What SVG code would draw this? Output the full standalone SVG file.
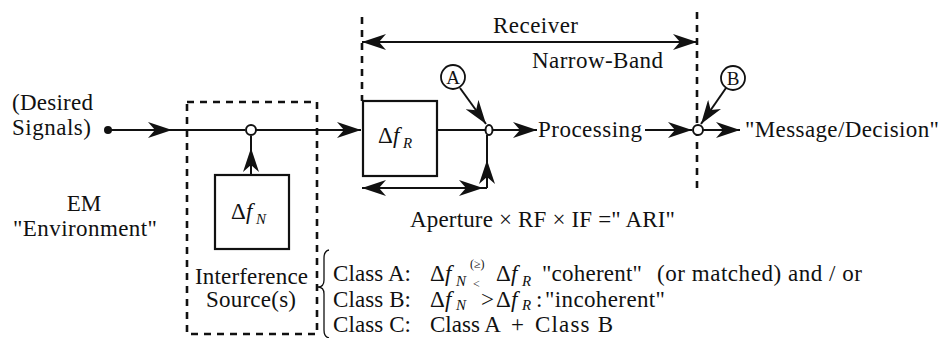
<svg xmlns="http://www.w3.org/2000/svg" width="945" height="338" viewBox="0 0 945 338">
  <defs>
    <marker id="arrow" viewBox="0 0 24 16" refX="24" refY="8" markerWidth="24" markerHeight="16" markerUnits="userSpaceOnUse" orient="auto-start-reverse">
      <path d="M0,0 L24,8 L0,16 L7,8 Z" fill="#111"/>
    </marker>
  </defs>
  <style>
    text { font-family: 'Liberation Serif', 'Times New Roman', 'DejaVu Serif', serif; font-size: 23px; fill: #111; }
    .it { font-style: italic; }
    .sub { font-style: italic; font-size: 15px; }
    .sm { font-size: 12px; }
    .lbl { font-size: 19px; }
    .box { fill: #fff; stroke: #111; stroke-width: 2.2; }
    .wire { fill: none; stroke: #111; stroke-width: 2; }
    .arr { fill: none; stroke: #111; stroke-width: 2; marker-end: url(#arrow); }
    .dbl { fill: none; stroke: #111; stroke-width: 2; marker-start: url(#arrow); marker-end: url(#arrow); }
    .dash { fill: none; stroke: #111; stroke-width: 2.6; stroke-dasharray: 7 6; }
    .node { fill: #fff; stroke: #111; stroke-width: 2; }
    .brace { fill: none; stroke: #111; stroke-width: 1.3; }
  </style>

  <!-- boundary markers: interference region and receiver span -->
  <g id="boundaries">
    <rect class="dash" x="187" y="102" width="130" height="232"/>
    <line class="dash" x1="362" y1="17" x2="362" y2="101"/>
    <line class="dash" x1="697" y1="12" x2="697" y2="188"/>
  </g>

  <g id="connectors">
    <!-- desired signal input -->
    <line class="arr" x1="108" y1="130" x2="172" y2="130"/>
    <line class="wire" x1="172" y1="130" x2="245" y2="130"/>
    <line class="arr" x1="256" y1="130" x2="361" y2="130"/>
    <!-- interference injection -->
    <line class="arr" x1="251" y1="175" x2="251" y2="148"/>
    <line class="wire" x1="251" y1="148" x2="251" y2="136"/>
    <!-- receiver chain -->
    <line class="wire" x1="437" y1="130" x2="485" y2="130"/>
    <line class="arr" x1="493" y1="130" x2="537" y2="130"/>
    <line class="arr" x1="645" y1="130" x2="692" y2="130"/>
    <line class="arr" x1="703" y1="130" x2="740" y2="130"/>
    <!-- aperture span -->
    <line class="dbl" x1="362" y1="188" x2="483" y2="188"/>
    <line class="wire" x1="483" y1="188" x2="487" y2="188"/>
    <line class="arr" x1="487" y1="188" x2="487" y2="160"/>
    <line class="wire" x1="487" y1="160" x2="487" y2="135"/>
    <!-- receiver span -->
    <line class="dbl" x1="362" y1="42" x2="697" y2="42"/>
    <!-- observation points -->
    <line class="arr" x1="460" y1="88" x2="486" y2="124"/>
    <line class="arr" x1="726" y1="88" x2="701" y2="124"/>
  </g>

  <g id="source">
    <circle cx="108" cy="130" r="4" fill="#111"/>
    <text x="12" y="110" textLength="81">(Desired</text>
    <text x="12" y="135" textLength="79">Signals)</text>
  </g>

  <g id="environment">
    <text x="84" y="211" text-anchor="middle">EM</text>
    <text x="13" y="236" textLength="144">"Environment"</text>
  </g>

  <g id="junction-n">
    <circle class="node" cx="251" cy="130" r="5"/>
  </g>

  <g id="interference">
    <rect class="box" x="215" y="175" width="74" height="74"/>
    <text x="231" y="219">Δ</text>
    <text class="it" x="246" y="219">f</text>
    <text class="sub" x="256" y="224">N</text>
    <text x="195" y="284" textLength="113">Interference</text>
    <text x="206" y="307" textLength="90">Source(s)</text>
  </g>

  <g id="receiver-filter">
    <rect class="box" x="363" y="101" width="74" height="75"/>
    <text x="378" y="143">Δ</text>
    <text class="it" x="393" y="143">f</text>
    <text class="sub" x="403" y="148">R</text>
  </g>

  <g id="node-a">
    <ellipse class="node" cx="489" cy="130" rx="3.5" ry="5"/>
  </g>

  <g id="point-a">
    <circle fill="none" stroke="#111" stroke-width="1.8" cx="453" cy="77" r="12"/>
    <text class="lbl" x="453" y="84" text-anchor="middle">A</text>
  </g>

  <g id="processing">
    <text x="538" y="137" textLength="104">Processing</text>
  </g>

  <g id="node-b">
    <circle class="node" cx="698" cy="130" r="5"/>
  </g>

  <g id="point-b">
    <circle fill="none" stroke="#111" stroke-width="1.8" cx="733" cy="78" r="12"/>
    <text class="lbl" x="733" y="85" text-anchor="middle">B</text>
  </g>

  <g id="output">
    <text x="745" y="137" textLength="194">"Message/Decision"</text>
  </g>

  <g id="receiver-label">
    <text x="493" y="33" textLength="85">Receiver</text>
    <text x="532" y="68" textLength="131">Narrow-Band</text>
  </g>

  <g id="aperture-label">
    <text x="410" y="227" textLength="265">Aperture × RF × IF =" ARI"</text>
  </g>

  <g id="classes">
    <path class="brace" d="M329,250 Q324,251 324,258 L324,280 Q324,287 318,287 Q324,287 324,294 L324,330 Q324,337 329,338"/>
    <text x="333" y="281" textLength="78">Class A:</text>
    <text x="430" y="281">Δ</text>
    <text class="it" x="445" y="281">f</text>
    <text class="sub" x="456" y="286">N</text>
    <text class="sm" x="470" y="268">(≥)</text>
    <text class="sm" x="473" y="288">&lt;</text>
    <text x="496" y="281">Δ</text>
    <text class="it" x="511" y="281">f</text>
    <text class="sub" x="522" y="286">R</text>
    <text x="542" y="281" textLength="100">"coherent"</text>
    <text x="657" y="281" textLength="205">(or matched) and / or</text>

    <text x="333" y="307" textLength="78">Class B:</text>
    <text x="430" y="307">Δ</text>
    <text class="it" x="445" y="307">f</text>
    <text class="sub" x="456" y="310">N</text>
    <text x="481" y="307">&gt;</text>
    <text x="496" y="307">Δ</text>
    <text class="it" x="511" y="307">f</text>
    <text class="sub" x="522" y="310">R</text>
    <text x="536" y="307">:</text>
    <text x="545" y="307" textLength="120">"incoherent"</text>

    <text x="333" y="332" textLength="78">Class C:</text>
    <text x="430" y="332">Class A</text>
    <text x="511" y="332">+</text>
    <text x="535" y="332" textLength="78">Class B</text>
  </g>
</svg>
